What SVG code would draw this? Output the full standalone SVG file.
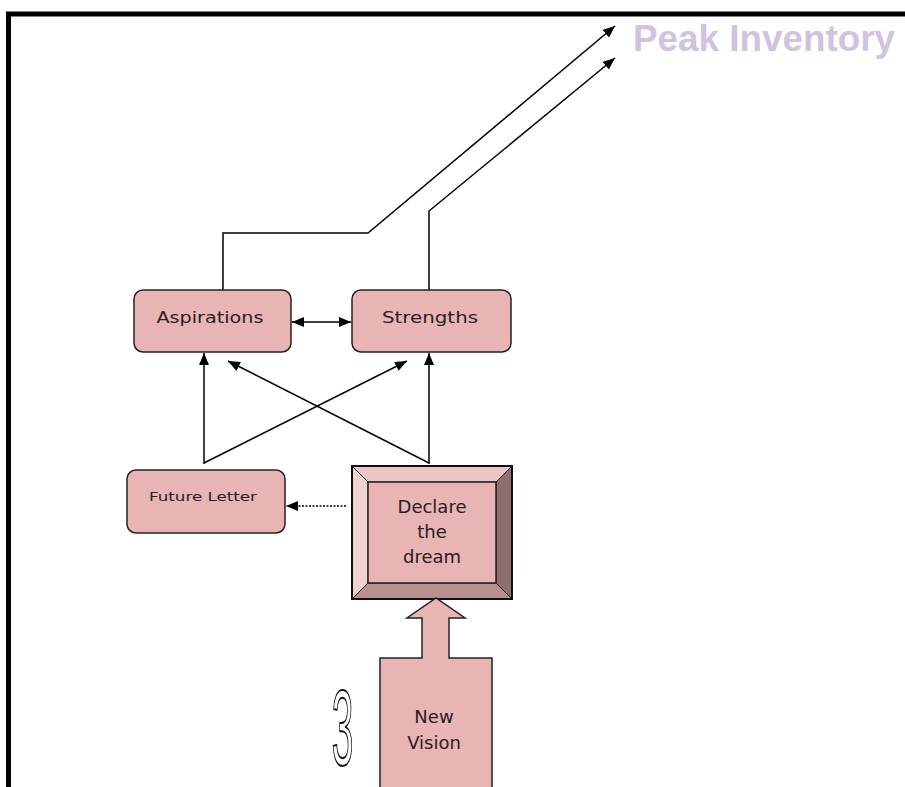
<svg xmlns="http://www.w3.org/2000/svg" width="905" height="787" viewBox="0 0 905 787">
<defs>
<marker id="ah" markerWidth="12" markerHeight="10" refX="12" refY="5" orient="auto-start-reverse" markerUnits="userSpaceOnUse">
<path d="M0,0 L12,5 L0,10 z" fill="#000"/>
</marker>
<style>
.ln{fill:none;stroke:#000;stroke-width:1.5}
.box{fill:#e8b4b4;stroke:#222;stroke-width:1.5}
.t{font-family:"DejaVu Sans",Verdana,sans-serif;fill:#2a2020;text-anchor:middle}
</style>
</defs>
<rect width="905" height="787" fill="#fff"/>
<path d="M8.5,792 V14 H910" fill="none" stroke="#000" stroke-width="5"/>
<text x="633" y="51" font-family="'Liberation Sans Narrow','Liberation Sans',Arial,sans-serif" font-weight="bold" font-size="37" fill="#cfc3e0" textLength="262" lengthAdjust="spacingAndGlyphs">Peak Inventory</text>

<g id="connectors">
<polyline class="ln" points="223,290 223,233 368,233 615,26" marker-end="url(#ah)"/>
<polyline class="ln" points="429,290 429,211 615,58" marker-end="url(#ah)"/>
<line class="ln" x1="292" y1="322" x2="351" y2="322" marker-start="url(#ah)" marker-end="url(#ah)"/>
<line class="ln" x1="204" y1="464" x2="204" y2="353" marker-end="url(#ah)"/>
<line class="ln" x1="429" y1="464" x2="429" y2="353" marker-end="url(#ah)"/>
<line class="ln" x1="204" y1="463" x2="407" y2="361" marker-end="url(#ah)"/>
<line class="ln" x1="429" y1="463" x2="228" y2="361" marker-end="url(#ah)"/>
<line x1="346" y1="506" x2="286" y2="506" stroke="#000" stroke-width="1.3" stroke-dasharray="2,1.5" marker-end="url(#ah)"/>
</g>

<g id="aspirations">
<rect class="box" x="134" y="290" width="157" height="62" rx="9"/>
<text class="t" x="210" y="323" font-size="15.5" textLength="107" lengthAdjust="spacingAndGlyphs">Aspirations</text>
</g>
<g id="strengths">
<rect class="box" x="352" y="290" width="159" height="62" rx="9"/>
<text class="t" x="430" y="323" font-size="15.5" textLength="96" lengthAdjust="spacingAndGlyphs">Strengths</text>
</g>
<g id="future-letter">
<rect class="box" x="127" y="470" width="158" height="63" rx="9"/>
<text class="t" x="203" y="501" font-size="12.5" textLength="108" lengthAdjust="spacingAndGlyphs">Future Letter</text>
</g>
<g id="declare">
<rect x="352" y="466" width="160" height="133" fill="#e8b4b4"/>
<polygon points="352,466 512,466 496,482 368,482" fill="#ecc6c6" stroke="#222" stroke-width="1"/>
<polygon points="352,466 368,482 368,583 352,599" fill="#f0d2d2" stroke="#222" stroke-width="1"/>
<polygon points="512,466 512,599 496,583 496,482" fill="#8c6e6e" stroke="#222" stroke-width="1"/>
<polygon points="352,599 368,583 496,583 512,599" fill="#b89090" stroke="#222" stroke-width="1"/>
<rect x="368" y="482" width="128" height="101" fill="#e8b4b4" stroke="#222" stroke-width="1.5"/>
<rect x="352" y="466" width="160" height="133" fill="none" stroke="#111" stroke-width="2"/>
<text class="t" x="432" y="513" font-size="18">Declare</text>
<text class="t" x="432" y="538" font-size="18">the</text>
<text class="t" x="432" y="563" font-size="18">dream</text>
</g>
<g id="new-vision">
<polygon class="box" points="380,792 380,658 422,658 422,618 407,618 436,598 465,618 449,618 449,658 492,658 492,792"/>
<text class="t" x="434" y="723" font-size="18">New</text>
<text class="t" x="434" y="749" font-size="18">Vision</text>
</g>
<g id="step-number">
<text transform="translate(342.5,765) scale(0.36,1)" font-family="'Liberation Sans',Arial,sans-serif" font-size="108" text-anchor="middle" fill="#fff" stroke="#111" stroke-width="1.5" vector-effect="non-scaling-stroke">3</text>
</g>
</svg>
